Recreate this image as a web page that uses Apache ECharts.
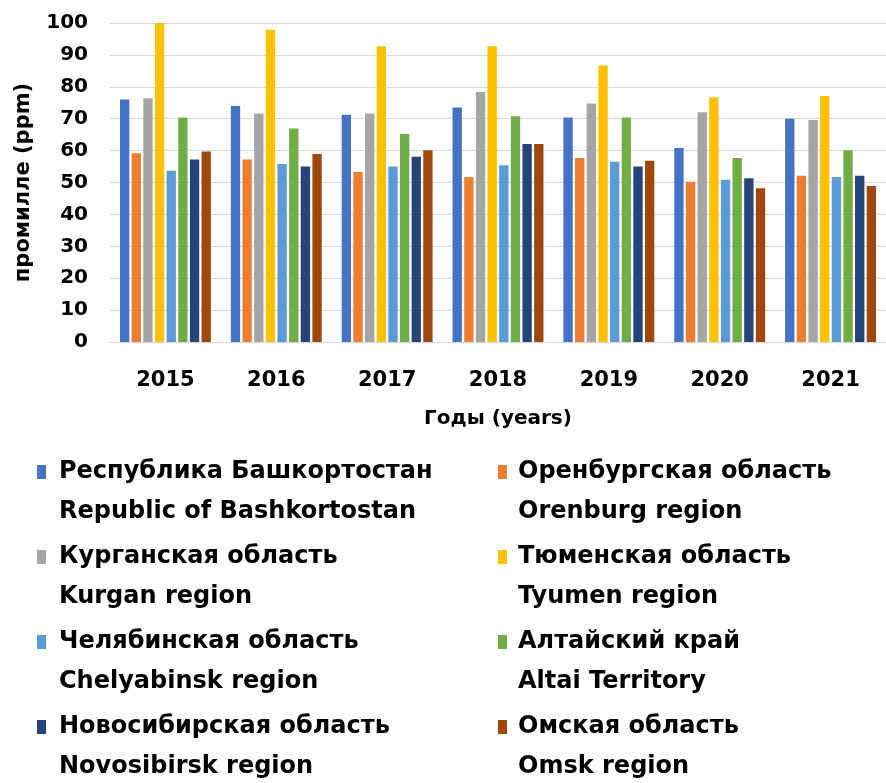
<!DOCTYPE html>
<html>
<head>
<meta charset="utf-8">
<script src="https://cdn.jsdelivr.net/npm/echarts@6/dist/echarts.min.js"></script>
<style>
html,body{margin:0;padding:0;background:#fff;}
#chart{width:886px;height:783px;}
</style>
</head>
<body>
<div id="chart"></div>
<script>
const years = ['2015','2016','2017','2018','2019','2020','2021'];
const yTicks = [0, 100, 10];
const seriesNamesRu = ['Республика Башкортостан','Оренбургская область','Курганская область','Тюменская область','Челябинская область','Алтайский край','Новосибирская область','Омская область'];
const seriesNamesEn = ['Republic of Bashkortostan','Orenburg region','Kurgan region','Tyumen region','Chelyabinsk region','Altai Territory','Novosibirsk region','Omsk region'];
const bashkortostan = [76.0, 74.0, 71.2, 73.5, 70.4, 60.8, 70.0];
const orenburg      = [59.2, 57.2, 53.3, 51.7, 57.7, 50.2, 52.1];
const kurgan        = [76.4, 71.6, 71.6, 78.4, 74.8, 72.0, 69.6];
const tyumen        = [100.0, 97.9, 92.7, 92.7, 86.7, 76.7, 77.1];
const chelyabinsk   = [53.7, 55.8, 55.0, 55.4, 56.5, 50.9, 51.7];
const altai         = [70.4, 66.9, 65.2, 70.8, 70.4, 57.7, 60.1];
const novosibirsk   = [57.2, 55.0, 58.1, 62.1, 55.0, 51.3, 52.1];
const omsk          = [59.7, 58.9, 60.1, 62.1, 56.8, 48.2, 48.9];
const seriesData = [bashkortostan, orenburg, kurgan, tyumen, chelyabinsk, altai, novosibirsk, omsk];
const colors = ['#4472C4','#ED7D31','#A5A5A5','#FFC000','#5B9BD5','#70AD47','#264478','#9E480E'];

const FONT = 'DejaVu Sans';
const names = seriesNamesRu.map((r, i) => r + '\n' + seriesNamesEn[i]);

function legendText(padLeft) {
  return {
    fontFamily: FONT, fontWeight: 'bold', fontSize: 24, color: '#000',
    lineHeight: 40, padding: [0, 0, 0, padLeft]
  };
}

const chart = echarts.init(document.getElementById('chart'));
chart.setOption({
  animation: false,
  color: colors,
  grid: { left: 110, top: 23, width: 777, height: 319 },
  xAxis: {
    type: 'category',
    data: years,
    name: 'Годы (years)',
    nameLocation: 'middle',
    nameGap: 67,
    nameTextStyle: { fontFamily: FONT, fontWeight: 'bold', fontSize: 20, color: '#000' },
    axisLine: { lineStyle: { color: '#d9d9d9', width: 1 } },
    axisTick: { show: false },
    axisLabel: { fontFamily: FONT, fontWeight: 'bold', fontSize: 21, color: '#000', margin: 28 }
  },
  yAxis: {
    type: 'value',
    min: yTicks[0], max: yTicks[1], interval: yTicks[2],
    name: 'промилле (ppm)',
    nameLocation: 'middle',
    nameRotate: 90,
    nameGap: 76,
    nameTextStyle: { fontFamily: FONT, fontWeight: 'bold', fontSize: 21, color: '#000' },
    axisLine: { show: false },
    axisTick: { show: false },
    splitLine: { lineStyle: { color: '#d9d9d9', width: 1 } },
    axisLabel: { fontFamily: FONT, fontWeight: 'bold', fontSize: 20, color: '#000', margin: 22 }
  },
  legend: [
    {
      orient: 'vertical', left: 32, top: 407, height: 500,
      itemWidth: 9, itemHeight: 14, itemGap: -35,
      icon: 'rect',
      formatter: n => '\n' + n,
      data: [names[0], names[2], names[4], names[6]],
      textStyle: legendText(8)
    },
    {
      orient: 'vertical', left: 493, top: 407, height: 500,
      itemWidth: 9, itemHeight: 14, itemGap: -35,
      icon: 'rect',
      formatter: n => '\n' + n,
      data: [names[1], names[3], names[5], names[7]],
      textStyle: legendText(6)
    }
  ],
  series: seriesData.map((d, i) => ({
    name: names[i],
    type: 'bar',
    data: d,
    barGap: '25%',
    barCategoryGap: '18%',
    itemStyle: { color: colors[i] }
  }))
});
</script>
</body>
</html>
